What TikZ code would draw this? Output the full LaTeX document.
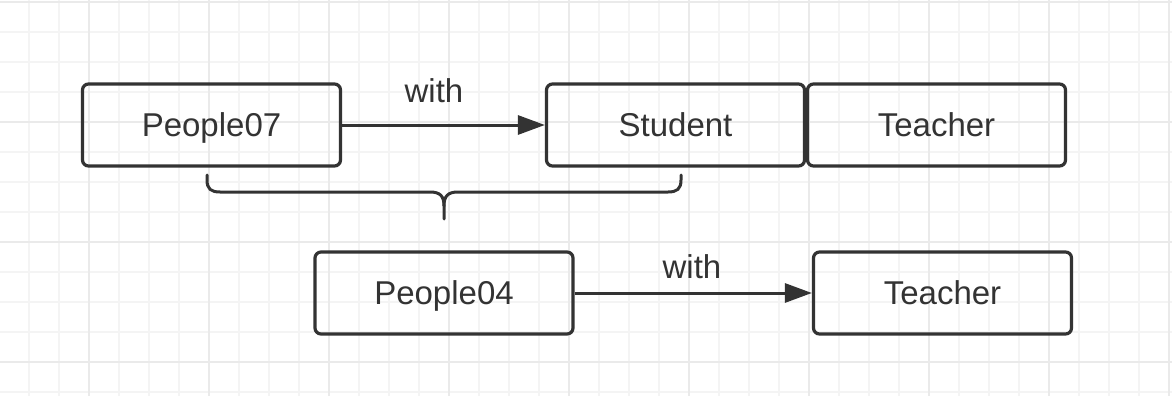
\documentclass[tikz,border=0pt]{standalone}
\usepackage{fontspec}
\setmainfont{Liberation Sans}
\usetikzlibrary{positioning, arrows.meta}

\definecolor{inkgray}{HTML}{333333}
\definecolor{gridminor}{HTML}{F4F4F4}
\definecolor{gridmajor}{HTML}{EAEAEA}

\tikzset{
  classbox/.style={draw=inkgray, text=inkgray, line width=3.2pt, rounded corners=6pt,
    minimum width=258pt, minimum height=82pt, inner sep=0pt,
    text height=23pt, text depth=0pt,
    font=\fontsize{33}{39}\selectfont},
  relarrow/.style={draw=inkgray, line width=3pt, -{Triangle[length=27pt,width=19pt]}},
  rellabel/.style={text=inkgray, inner sep=0pt, text height=23pt, text depth=0pt,
    font=\fontsize{33}{39}\selectfont}
}

\begin{document}
\begin{tikzpicture}[x=1pt, y=-1pt]

    % Background grid
    \useasboundingbox (0,0) rectangle (1172,396);
    \fill[white] (0,0) rectangle (1172,396);
    \foreach \x in {29,59,...,1169} \draw[gridminor, line width=1.2pt] (\x,0) -- (\x,396);
    \foreach \y in {2,32,...,392} \draw[gridminor, line width=1.2pt] (0,\y) -- (1172,\y);
    \foreach \x in {89,209,...,1169} \draw[gridmajor, line width=1.2pt] (\x,0) -- (\x,396);
    \foreach \y in {2,122,242,362} \draw[gridmajor, line width=1.2pt] (0,\y) -- (1172,\y);

    % Boxes
    \node[classbox] (people07) at (211.5,125) {People07};
    \node[classbox] (student) at (675.5,125) {Student};
    \node[classbox] (teacherA) at (936.5,125) {Teacher};
    \node[classbox] (people04) at (444,293) {People04};
    \node[classbox] (teacherB) at (942.5,293) {Teacher};

    % Relations
    \draw[relarrow] (people07) -- (student);
    \node[rellabel] (withA) at (434,91) {with};
    \draw[relarrow] (people04) -- (teacherB);
    \node[rellabel] (withB) at (692,266.5) {with};

    % Brace
    \coordinate (bracetip) at (444,219);
    \draw[inkgray, line width=3pt, line cap=round]
        (207,175) -- (207,180) .. controls (207,189) and (211,192) .. (220,192)
        -- (430,192) .. controls (440,192) and (444,196) .. (444,206) -- (bracetip);
    \draw[inkgray, line width=3pt, line cap=round]
        (681,175) -- (681,180) .. controls (681,189) and (677,192) .. (668,192)
        -- (458,192) .. controls (448,192) and (444,196) .. (444,206);

\end{tikzpicture}
\end{document}
